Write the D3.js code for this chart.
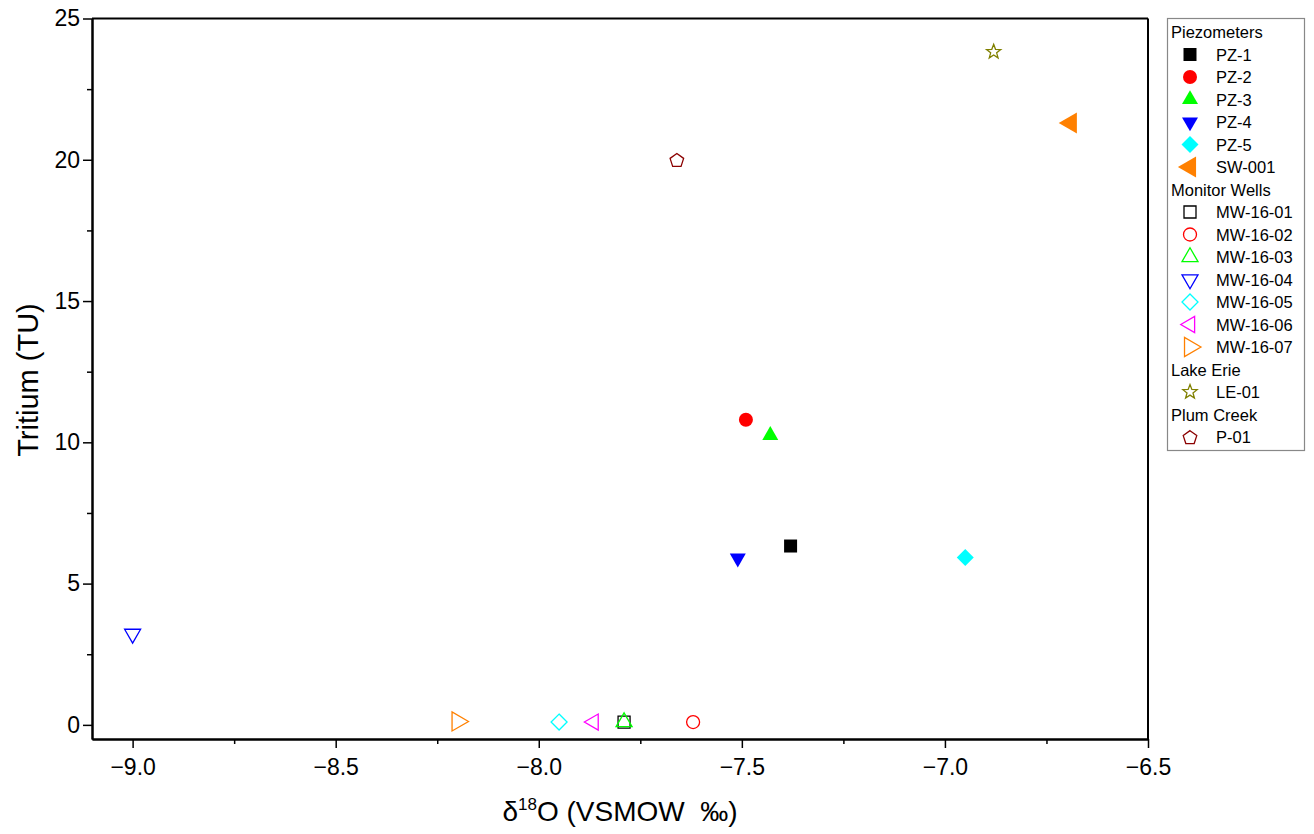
<!DOCTYPE html>
<html>
<head>
<meta charset="utf-8">
<script src="https://cdn.jsdelivr.net/npm/d3@7"></script>
<style>
  html, body { margin: 0; padding: 0; background: #fff; }
  svg { display: block; font-family: "Liberation Sans", Arial, sans-serif; }
</style>
</head>
<body>
<svg id="chart" width="1314" height="834"></svg>
<script>
// ---------------- data ----------------
const groupNames = ["Piezometers", "Monitor Wells", "Lake Erie", "Plum Creek"];
const sampleIds = ["PZ-1", "PZ-2", "PZ-3", "PZ-4", "PZ-5", "SW-001",
  "MW-16-01", "MW-16-02", "MW-16-03", "MW-16-04", "MW-16-05", "MW-16-06", "MW-16-07",
  "LE-01", "P-01"];
const sampleGroup = [0, 0, 0, 0, 0, 0, 1, 1, 1, 1, 1, 1, 1, 2, 3];
const d18O = [-7.38, -7.49, -7.43, -7.51, -6.95, -6.69,
  -7.79, -7.62, -7.79, -9.00, -7.95, -7.865, -8.20,
  -6.88, -7.66];
const tritium = [6.33, 10.8, 10.25, 5.9, 5.92, 21.3,
  0.1, 0.1, 0.1, 3.22, 0.1, 0.1, 0.12,
  23.82, 20.0];
const xTicks = [-9.0, -8.5, -8.0, -7.5, -7.0, -6.5];
const yTicks = [0, 5, 10, 15, 20, 25];
const xMinorTicks = [-8.75, -8.25, -7.75, -7.25, -6.75];
const yMinorTicks = [2.5, 7.5, 12.5, 17.5, 22.5];

// ---------------- styles ----------------
const markerStyle = [
  { shape: "square", size: 13, fill: "#000000" },
  { shape: "circle", size: 14, fill: "#ff0000" },
  { shape: "triUp", size: 16, fill: "#00ff00" },
  { shape: "triDown", size: 16, fill: "#0000ff" },
  { shape: "diamond", size: 17, fill: "#00ffff" },
  { shape: "triLeft", size: 21, fill: "#ff8000" },
  { shape: "square", size: 12, stroke: "#000000" },
  { shape: "circle", size: 13, stroke: "#ff0000" },
  { shape: "triUp", size: 16, stroke: "#00ff00" },
  { shape: "triDown", size: 16, stroke: "#0000ff" },
  { shape: "diamond", size: 16, stroke: "#00ffff" },
  { shape: "triLeft", size: 16, stroke: "#ff00ff" },
  { shape: "triRight", size: 19, stroke: "#ff8000" },
  { shape: "star", size: 15, stroke: "#808000" },
  { shape: "pentagon", size: 15, stroke: "#8b0000" }
];

function shapePath(shape, s) {
  const p = d3.path();
  const poly = pts => { p.moveTo(pts[0][0], pts[0][1]); pts.slice(1).forEach(q => p.lineTo(q[0], q[1])); p.closePath(); };
  const h = s * Math.sqrt(3) / 2; // triangle height for side s
  switch (shape) {
    case "square": poly([[-s/2,-s/2],[s/2,-s/2],[s/2,s/2],[-s/2,s/2]]); break;
    case "circle": p.arc(0, 0, s/2, 0, 2*Math.PI); p.closePath(); break;
    case "triUp": poly([[0,-h*2/3],[s/2,h/3],[-s/2,h/3]]); break;
    case "triDown": poly([[0,h*2/3],[s/2,-h/3],[-s/2,-h/3]]); break;
    case "triLeft": poly([[-h*2/3,0],[h/3,-s/2],[h/3,s/2]]); break;
    case "triRight": poly([[h*2/3,0],[-h/3,-s/2],[-h/3,s/2]]); break;
    case "diamond": poly([[0,-s/2],[s/2,0],[0,s/2],[-s/2,0]]); break;
    case "star": {
      const pts = [];
      for (let i = 0; i < 10; i++) {
        const r = i % 2 === 0 ? s/2 : s/2 * 0.42;
        const a = -Math.PI/2 + i * Math.PI/5;
        pts.push([r*Math.cos(a), r*Math.sin(a)]);
      }
      poly(pts); break;
    }
    case "pentagon": {
      const pts = [];
      for (let i = 0; i < 5; i++) {
        const a = -Math.PI/2 + i * 2*Math.PI/5;
        pts.push([s/2*0.95*Math.cos(a), s/2*0.95*Math.sin(a) + 0.8]);
      }
      poly(pts); break;
    }
  }
  return p.toString();
}

function drawMarker(sel, st) {
  sel.append("path")
    .attr("d", shapePath(st.shape, st.size))
    .attr("fill", st.fill ? st.fill : "none")
    .attr("stroke", st.stroke ? st.stroke : "none")
    .attr("stroke-width", st.stroke ? 1.3 : 0)
    .attr("stroke-linejoin", "miter");
}

// ---------------- layout ----------------
const svg = d3.select("#chart");
const plot = { left: 92, right: 1148, top: 18.5, bottom: 739 };

const x = d3.scaleLinear().domain([-9.1, -6.5]).range([plot.left, plot.right]);
const y = d3.scaleLinear().domain([-0.5, 25]).range([plot.bottom, plot.top]);

// frame (top/right)
svg.append("line").attr("x1", plot.left).attr("x2", plot.right).attr("y1", plot.top).attr("y2", plot.top)
  .attr("stroke", "#000").attr("stroke-width", 2);
svg.append("line").attr("x1", plot.right).attr("x2", plot.right).attr("y1", plot.top).attr("y2", plot.bottom)
  .attr("stroke", "#000").attr("stroke-width", 2);

// x axis
const fmtX = d3.format(".1f");
const xAxis = svg.append("g").attr("transform", `translate(0,${plot.bottom})`)
  .call(d3.axisBottom(x).tickValues(xTicks).tickFormat(fmtX).tickSize(9).tickSizeOuter(0));
const xMinor = svg.append("g").attr("transform", `translate(0,${plot.bottom})`)
  .call(d3.axisBottom(x).tickValues(xMinorTicks).tickFormat("").tickSize(5).tickSizeOuter(0));
// y axis
const yAxis = svg.append("g").attr("transform", `translate(${plot.left},0)`)
  .call(d3.axisLeft(y).tickValues(yTicks).tickFormat(d3.format("d")).tickSize(9).tickSizeOuter(0));
const yMinor = svg.append("g").attr("transform", `translate(${plot.left},0)`)
  .call(d3.axisLeft(y).tickValues(yMinorTicks).tickFormat("").tickSize(5).tickSizeOuter(0));

[xAxis, xMinor, yAxis, yMinor].forEach(g => {
  g.select(".domain").attr("stroke", "#000").attr("stroke-width", 2);
  g.selectAll(".tick line").attr("stroke", "#000").attr("stroke-width", 1.5);
});
xAxis.selectAll(".tick text").attr("font-size", 23).attr("fill", "#000").attr("y", 19).attr("dy", "0.75em");
yAxis.selectAll(".tick text").attr("font-size", 23).attr("fill", "#000").attr("x", -12);

// axis titles
const xt = svg.append("text").attr("x", 620).attr("y", 821).attr("text-anchor", "middle")
  .attr("font-size", 28).attr("fill", "#000").style("white-space", "pre");
xt.append("tspan").text("δ");
xt.append("tspan").attr("font-size", 17).attr("dy", -11).text("18");
xt.append("tspan").attr("dy", 11).text("O (VSMOW  ‰)");

svg.append("text").attr("transform", "translate(38,380) rotate(-90)").attr("text-anchor", "middle")
  .attr("font-size", 29).attr("fill", "#000").text("Tritium (TU)");

// points
const pts = svg.append("g");
sampleIds.forEach((id, i) => {
  const g = pts.append("g").attr("transform", `translate(${x(d18O[i])},${y(tritium[i])})`);
  drawMarker(g, markerStyle[i]);
});

// legend
const legX = 1167, legY = 18, legW = 137, legH = 432, rowH = 22.5;
svg.append("rect").attr("x", legX + 0.5).attr("y", legY + 0.5).attr("width", legW).attr("height", legH)
  .attr("fill", "#fff").attr("stroke", "#888").attr("stroke-width", 1.2);
let row = 0;
const legFont = 16.5;
groupNames.forEach((gname, gi) => {
  const cy = legY + 14 + row * rowH;
  svg.append("text").attr("x", legX + 4).attr("y", cy + 6).attr("font-size", legFont).attr("fill", "#000").text(gname);
  row++;
  sampleIds.forEach((id, i) => {
    if (sampleGroup[i] !== gi) return;
    const ry = legY + 14 + row * rowH;
    const g = svg.append("g").attr("transform", `translate(${legX + 23},${ry})`);
    drawMarker(g, markerStyle[i]);
    svg.append("text").attr("x", legX + 49).attr("y", ry + 6).attr("font-size", legFont).attr("fill", "#000").text(id);
    row++;
  });
});
</script>
</body>
</html>
